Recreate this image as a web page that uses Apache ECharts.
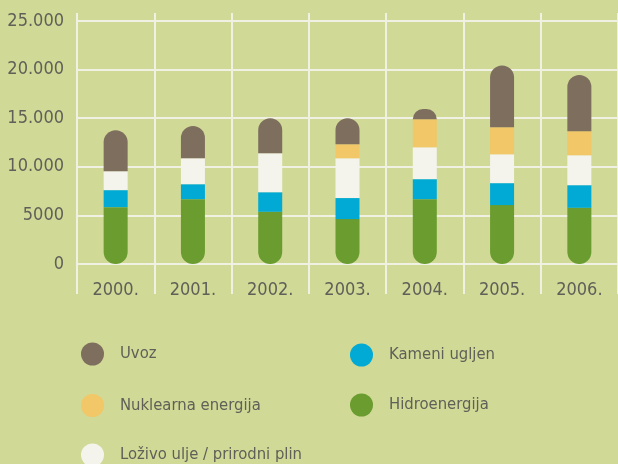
<!DOCTYPE html>
<html><head><meta charset="utf-8">
<script src="https://cdn.jsdelivr.net/npm/echarts@6/dist/echarts.min.js"></script>
<style>html,body{margin:0;padding:0;background:#d0d996;}#c{width:618px;height:464px;}</style>
</head><body><div id="c"></div>
<script>
const years = ['2000.', '2001.', '2002.', '2003.', '2004.', '2005.', '2006.'];
const hidro = [5850, 6670, 5370, 4620, 6670, 6060, 5780];
const kameni = [1750, 1540, 2020, 2160, 2060, 2260, 2330];
const lozivo = [1950, 2670, 4010, 4100, 3280, 2970, 3080];
const nuklearna = [0, 0, 0, 1440, 2880, 2780, 2470];
const uvoz = [4210, 3320, 3590, 2670, 1060, 6360, 5780];
const yTicks = [0, 5000, 10000, 15000, 20000, 25000];
const yTickLabels = ['0', '5000', '10.000', '15.000', '20.000', '25.000'];

const FONT = '"DejaVu Sans Condensed", "DejaVu Sans", sans-serif';
const FSTYLE = 'condensed';
const TXT = '#606058';
const LINE = '#f1f1e3';
const C = { uvoz: '#7d6e5e', nukl: '#f1c768', loz: '#f4f4ec', kam: '#00aad5', hid: '#6a9c2f' };

function ser(name, data, color, radius) {
  return {
    name: name, type: 'bar', stack: 's', data: data, barWidth: 24,
    xAxisIndex: 0, yAxisIndex: 0,
    itemStyle: { color: color, borderRadius: radius },
    emphasis: { disabled: true }
  };
}
function leg(name, left, top) {
  return { left: left, top: top, padding: 0, icon: 'circle', itemWidth: 23, itemHeight: 23,
    data: [name], selectedMode: false,
    textStyle: { color: TXT, fontSize: 16.5, fontFamily: FONT, fontStyle: FSTYLE, padding: [0, 0, 0, 11] } };
}

const chart = echarts.init(document.getElementById('c'));
chart.setOption({
  animation: false,
  backgroundColor: '#d0d996',
  grid: [
    { left: 77, width: 543, top: 21, height: 243 },
    { left: 77, width: 543, top: 13, height: 281 }
  ],
  xAxis: [
    { gridIndex: 0, type: 'category', data: years, boundaryGap: true,
      axisLine: { show: false }, axisTick: { show: false }, splitLine: { show: false },
      axisLabel: { color: TXT, fontSize: 18, fontFamily: FONT, fontStyle: FSTYLE, margin: 17 } },
    { gridIndex: 1, type: 'category', data: years, boundaryGap: true,
      axisLine: { show: false }, axisTick: { show: false }, axisLabel: { show: false },
      splitLine: { show: true, lineStyle: { color: LINE, width: 2 } } }
  ],
  yAxis: [
    { gridIndex: 0, type: 'value', min: 0, max: 25000, interval: 5000,
      axisLine: { show: false }, axisTick: { show: false },
      splitLine: { show: true, lineStyle: { color: LINE, width: 2 } },
      axisLabel: { color: TXT, fontSize: 18, fontFamily: FONT, fontStyle: FSTYLE, margin: 13,
        formatter: function (v) { const i = yTicks.indexOf(v); return i >= 0 ? yTickLabels[i] : ''; } } },
    { gridIndex: 1, type: 'value', show: false, splitLine: { show: false } }
  ],
  legend: [
    leg('Uvoz', 81, 342.5),
    leg('Nuklearna energija', 81, 394),
    leg('Loživo ulje / prirodni plin', 81, 443.5),
    leg('Kameni ugljen', 350, 343.5),
    leg('Hidroenergija', 350, 393.5)
  ],
  series: [
    ser('Hidroenergija', hidro, C.hid, [0, 0, 12, 12]),
    ser('Kameni ugljen', kameni, C.kam, 0),
    ser('Loživo ulje / prirodni plin', lozivo, C.loz, 0),
    ser('Nuklearna energija', nuklearna, C.nukl, 0),
    ser('Uvoz', uvoz, C.uvoz, [12, 12, 0, 0])
  ]
});
</script></body></html>
